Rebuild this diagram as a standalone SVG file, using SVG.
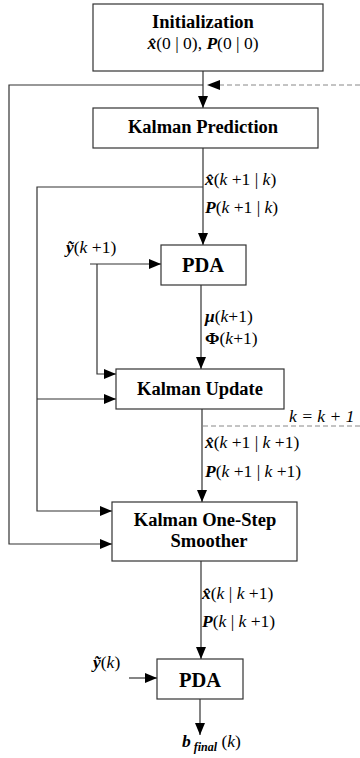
<svg xmlns="http://www.w3.org/2000/svg" width="360" height="758" viewBox="0 0 360 758">
<style>
.box{fill:#fff;stroke:#333;stroke-width:1.2}
.ln{fill:none;stroke:#333;stroke-width:1.2}
.dash{fill:none;stroke:#888;stroke-width:1;stroke-dasharray:5,3}
.t{font-family:"Liberation Serif","Times New Roman",serif;fill:#000}
.b{font-weight:bold;font-size:18.5px}
.pda{font-weight:bold;font-size:20.5px}
.m{font-size:17.5px}
.bi{font-weight:bold;font-style:italic}
.i{font-style:italic}
</style>
<defs>
<marker id="ah" markerUnits="userSpaceOnUse" markerWidth="12" markerHeight="10" refX="12" refY="5" orient="auto">
<path d="M0,0 L12,5 L0,10 Z" fill="#000"/>
</marker>
</defs>
<g id="connectors">
<path class="ln" d="M203,71 V108" marker-end="url(#ah)"/>
<path class="ln" d="M203,85 H9 V544 H112" marker-end="url(#ah)"/>
<path class="dash" d="M360,85 H219"/>
<path d="M207,85 L220,80 L220,90 Z" fill="#000"/>
<path class="ln" d="M203,148 V245" marker-end="url(#ah)"/>
<path class="ln" d="M203,187 H37 V511 H112" marker-end="url(#ah)"/>
<path class="ln" d="M37,399 H116" marker-end="url(#ah)"/>
<path class="ln" d="M90,264 H161" marker-end="url(#ah)"/>
<path class="ln" d="M97,264 V374 H116" marker-end="url(#ah)"/>
<path class="ln" d="M201,285 V369" marker-end="url(#ah)"/>
<path class="ln" d="M202,409 V502" marker-end="url(#ah)"/>
<path class="dash" d="M203,426 H360"/>
<path class="ln" d="M201,561 V659" marker-end="url(#ah)"/>
<path class="ln" d="M129,678 H157" marker-end="url(#ah)"/>
<path class="ln" d="M200,699 V735" marker-end="url(#ah)"/>
</g>
<g id="init">
<rect class="box" x="93" y="4" width="230" height="67"/>
<text class="t b" x="203" y="28" text-anchor="middle">Initialization</text>
<text class="t m" x="203" y="49" text-anchor="middle"><tspan class="bi">x̂</tspan>(0 | 0), <tspan class="bi">P</tspan>(0 | 0)</text>
</g>
<g id="prediction">
<rect class="box" x="93" y="108" width="225" height="40"/>
<text class="t b" x="203" y="133" text-anchor="middle">Kalman Prediction</text>
</g>
<g id="pda1">
<rect class="box" x="161" y="245" width="85" height="40"/>
<text class="t pda" x="203" y="272" text-anchor="middle">PDA</text>
</g>
<g id="update">
<rect class="box" x="116" y="369" width="168" height="40"/>
<text class="t b" x="200" y="395" text-anchor="middle">Kalman Update</text>
</g>
<g id="smoother">
<rect class="box" x="112" y="502" width="185" height="59"/>
<text class="t b" x="205" y="526" text-anchor="middle">Kalman One-Step</text>
<text class="t b" x="209" y="547" text-anchor="middle">Smoother</text>
</g>
<g id="pda2">
<rect class="box" x="157" y="659" width="86" height="40"/>
<text class="t pda" x="200" y="687" text-anchor="middle">PDA</text>
</g>
<g id="labels">
<text class="t m" x="205" y="185"><tspan class="bi">x̂</tspan>(<tspan class="i">k</tspan> +1 | <tspan class="i">k</tspan>)</text>
<text class="t m" x="205" y="213"><tspan class="bi">P</tspan>(<tspan class="i">k</tspan> +1 | <tspan class="i">k</tspan>)</text>
<text class="t m" x="66" y="253"><tspan class="bi">ỹ</tspan>(<tspan class="i">k</tspan> +1)</text>
<text class="t m" x="205" y="322"><tspan class="bi">μ</tspan>(<tspan class="i">k</tspan>+1)</text>
<text class="t m" x="205" y="344"><tspan font-weight="bold">Φ</tspan>(<tspan class="i">k</tspan>+1)</text>
<text class="t m i" x="289" y="422">k = k + 1</text>
<text class="t m" x="205" y="448"><tspan class="bi">x̂</tspan>(<tspan class="i">k</tspan> +1 | <tspan class="i">k</tspan> +1)</text>
<text class="t m" x="205" y="477"><tspan class="bi">P</tspan>(<tspan class="i">k</tspan> +1 | <tspan class="i">k</tspan> +1)</text>
<text class="t m" x="202" y="599"><tspan class="bi">x̂</tspan>(<tspan class="i">k</tspan> | <tspan class="i">k</tspan> +1)</text>
<text class="t m" x="202" y="627"><tspan class="bi">P</tspan>(<tspan class="i">k</tspan> | <tspan class="i">k</tspan> +1)</text>
<text class="t m" x="93" y="668"><tspan class="bi">ỹ</tspan>(<tspan class="i">k</tspan>)</text>
<text class="t m" x="182" y="747"><tspan class="bi">b</tspan><tspan class="bi" font-size="12px" dy="4"> final</tspan><tspan dy="-4"> (</tspan><tspan class="i">k</tspan>)</text>
</g>
</svg>
